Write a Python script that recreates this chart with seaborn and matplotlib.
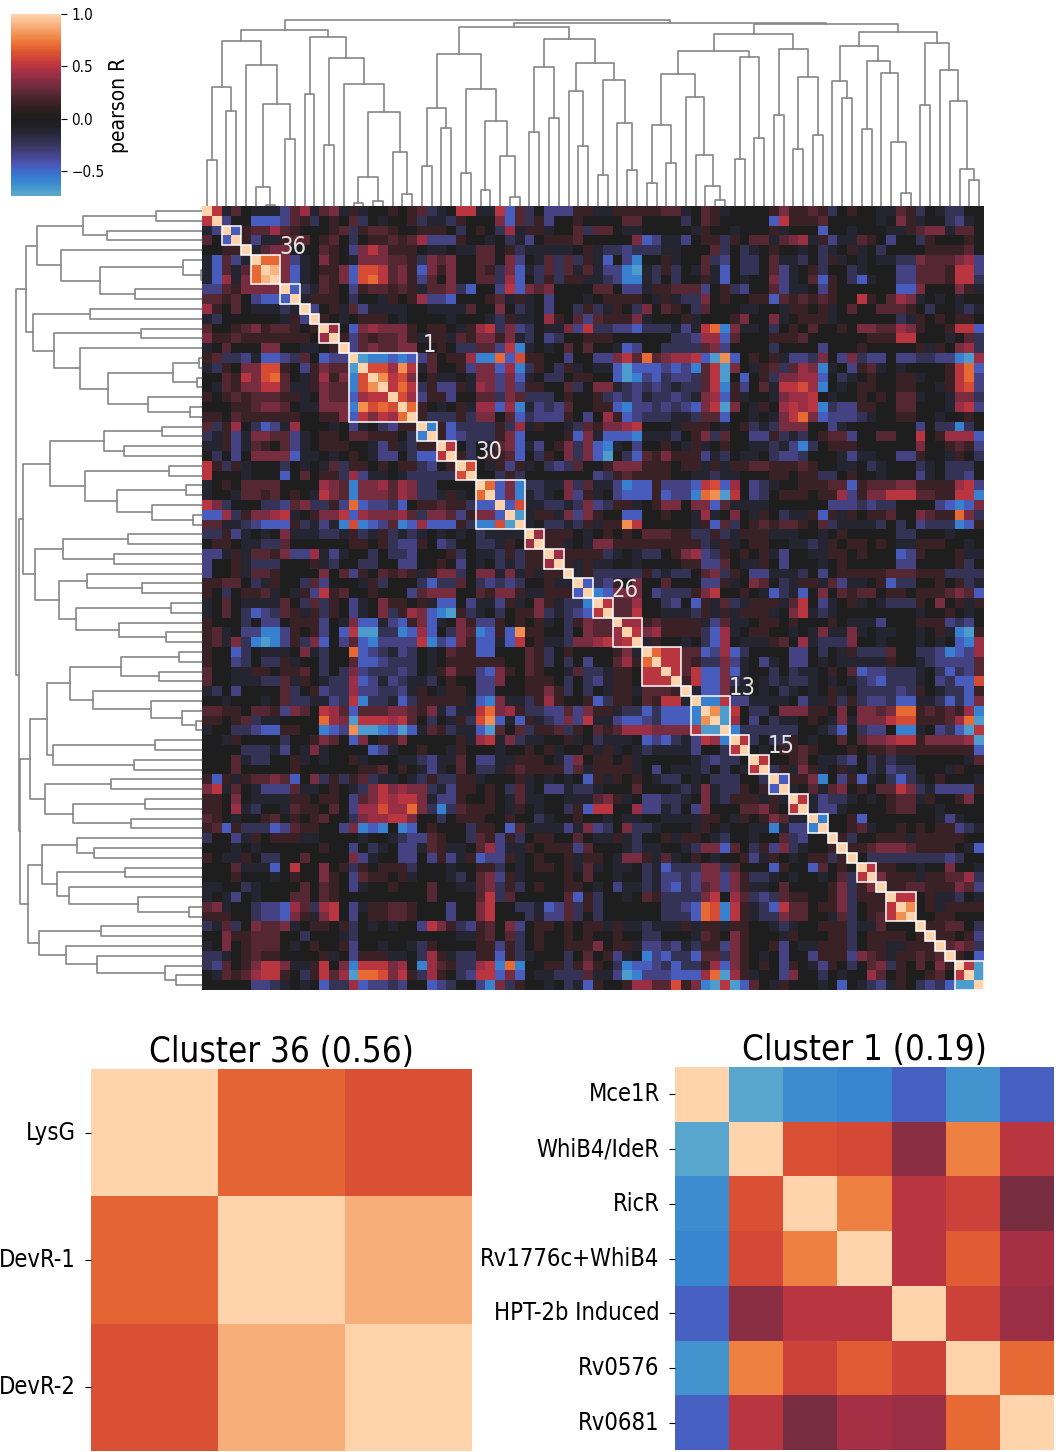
import matplotlib
matplotlib.use("Agg")
import matplotlib.pyplot as plt
import numpy as np
import pandas as pd
import seaborn as sns
from matplotlib.patches import Rectangle

# upper triangle of the correlation matrix, one character per cell
LEVELS = {'A': -.68, 'B': -.58, 'C': -.45, 'D': -.33, 'E': -.23, 'F': -.12, '0': 0, '1': .13, '2': .23,
          '3': .33, '4': .42, '5': .5, '6': .6, '7': .7, '8': .8, '9': .9, 'X': 1}
UPPER_ROWS = [
    "X5F20FFFD2 4F23F1F001 012EF055FF 5C2E0DDD11 FF1111122F 021F000013 1121E0100F F21E0FEE00",
    ".XD00CCCD2 1E0102E0F0 01EFFE1000 3C2E1D0010 000220000E 02100000C5 111200000F 031F00EDF0",
    "..XC122421 00012E1221 001110E010 E4F11F002E 220FF00000 F100F0001F 000C00F000 FF1233F220",
    "...X1DFF12 20120E0112 124DDD100F 0EFD011120 00003CDFFD 011E1022F2 34F1DFF210 D00E100010",
    "....XF2330 00210D3531 110FF0FF22 01EFFFFF01 FEEDEEEFF0 002E0EF010 0F0EF01F0E 0000111120",
    ".....X773D F0310F3332 21E3230022 03D0F2E2E1 FC0DB001F0 02ED0EE02F FE0E1F0F0F FEE322234D",
    "......X93C F0113C6652 31C3130021 E3CFE2E2F2 FDDBAFE1E0 F2FC0EE02D F01E00EF00 0DD222155D",
    ".......X3C F0213C6752 31D2030022 E4C0E1E11F FEDBBFE0E0 01FC0F003D F02C10ECF0 0DD222155E",
    "........XC EF210D1221 21F223EC00 D5C3230000 220DDF1122 2D01ED002D FF0D100000 0CC300031F",
    ".........X F1110E00F1 014DDC0001 2F1F0D000F 011110F1FE E3010011C2 1212100510 243F0F0F00",
    "XD01F2DFFF F00FFFF200 30EF0D00E1 EF10E30210 E2000FF00F 1101F02002 2210E00FEF",
    ".X10F01110 F0000F000F E1FF04102D 21113F0001 F00013003F 0111F00000 0EF1010110",
    "..X40C3433 310110F145 E3DE0FF3D5 EEDDCEEEFD F57B3FF0E0 1020010332 243100155C",
    "...X1D2122 31F11F2133 13FE0DE001 11000000EE D44C200011 1200000011 155000F02E",
    "....XD2322 330010EE22 D5BF0F0202 00FCD00EEE E23D0000E0 000D000100 0001F1034E",
    ".....XABBC BCD20114BB 7C61100D00 DD35272344 5CA8C0101F DDE30D3EDD 0DDEEDDBA4",
    "......X664 85F2001D33 C4BE10E1F0 FFCACCCDCD B25A30F12E 243BF0D12F 0F0000157C",
    ".......X85 6301FF0F33 D3CF0EE011 00CABDCEDD E25A0C01E3 344C0EF010 011F00157D",
    "........X5 75E1DD1F43 D3D11002E0 33FEDEDEFE E25B1D02F5 564B0F0110 01100F156D",
    ".........X 64D11D0022 E32EEE0100 1EDEDFEEDE F34C1F00F3 4450F00101 022F00F33E",
    "X710F01F44 C4BFDED200 11CBDDEDED C35A30F104 545BEDD110 022000F45D",
    ".X1EEE1E33 02CEDDD10D 041CDEEEFF E22C00F0F3 573CDDDEF0 01100F0010",
    "..XB1CEEEE 1E4F100FE2 13345000F1 110F01EFE3 3300DF0000 000D0EEBE0",
    "...X1CDEEE 13C00001C3 FCCCBFFFE0 13E200DD1E FE0122D002 200501444C",
    "....X50E0F 23CFD013E3 CBF0D0010F 1F0100FFEF DBE0111000 000300121D",
    ".....X1E01 12C0E103E3 CA0EC21311 1DFE0FF0ED DE000FDFF0 0DD100F10E",
    "......X60F 1D1F0EDE20 0133311101 1F1F112211 12100FF0EF 000EF0EEE0",
    ".......X00 E1E0000000 DE12111100 FFEFF00011 011EE0100F 000DF0EED0",
    "........X7 C3BEEFF3E2 FFDBCC1DDD C56C40DEF0 011122C122 233111145D",
    ".........X C3BFEF03D1 F0DCCC1CDD B78A50DE01 110114D133 555221155B",
    "XC6FFEEFE3 DE11F01330 33C2FFFF00 0000DDDEDE E0000DCBC3",
    ".XAF11F3D3 100CC00100 F4F030F10E FF1C1F1011 200321173E",
    "..XF0EEFE1 F118500000 F1C2E01212 2102EFFFFE 0E0DEEEBC1",
    "...X41110F 0101022211 EE1EF111FF F00F010000 0EE000F000",
    "....X11F0F 3311111111 1EF1F01100 FFEF101101 0FF11100F0",
    ".....X4111 1EF0FEE013 4DE10101FD 00FF110100 0CD10001FF",
    "......X1F1 FF00F00001 1DD20FF10D 000F010000 0DD00001E0",
    ".......XF1 EEEEE1EFEE 023E10DDFF FE0D011111 222111EEEE",
    "........XC ED10300200 0DD1F0320E F11F2DFF01 CEE00101EF",
    ".........X BC3330DEEE 1350010FCE FC03021220 110111232C",
    "X522400ED0 C1F2EF111F 250DF01F0F EEE10301F1",
    ".X22500FFF E1F1F111F0 35FEF00000 000F0010F0",
    "..X4412111 1FD2FF0110 100010FFFD 000111DED0",
    "...X534111 1EC4F01100 F0F3FF3F0F F00F01FBA1",
    "....XF100F 0EC40FFF12 04FEEE300F 000F0F0CB4",
    ".....X7552 2CD4CE0000 DD0E0F1EEE 200EEDBCD4",
    "......X552 1EE3DF0DF0 DD0F0FFFFF 100FEDDDD2",
    ".......X52 5CC3CF00E0 EFF0102CDD EEEF0ECED2",
    "........X1 5CC3EF0FEF EEF0F0FEDC EEEF0DECC6",
    ".........X FCC3FF0F0E F0F01F0EEE EDE10FEEC1",
    "XBB5DDFFFF 0DFF1E1EDD ECCFFECEC3",
    ".X8A50EE03 3311030332 377121214B",
    "..XA40D0EF F010F3F333 566111247A",
    "...XBEEEEE E00FEC0EDD 0BBF0DECA5",
    "....X5E0EE 10F0020233 455133334A",
    ".....X0F01 1210001011 211111111C",
    "......X500 120FFED0EF EFF00000F2",
    ".......XE1 F31F01F0EF DEE000F100",
    "........XC 113B0D1CF0 ECEF01000F",
    ".........X F02F230102 253EFDDDD1",
    "X5FDEEF0F0 122F100130",
    ".XFDDF0000 12200F0000",
    "..XB001C00 00000FDF00",
    "...X0012F0 0101011DEF",
    "....X1E001 11F1111100",
    ".....X1123 33211110FC",
    "......X0EE EEEEEEDE00",
    ".......X51 100F00300F",
    "........X3 111F11224E",
    ".........X 112211132D",
    "X5501FFE0F",
    ".X801F1111",
    "..X0011000",
    "...X11220E",
    "....X1101D",
    ".....X232E",
    "......X10C",
    ".......X5A",
    "........XA",
    ".........X",
]

# sizes of the white boxes on the diagonal, starting at row 2
BOX_SIZES = [2, 1, 3, 2, 1, 1, 2, 1, 7, 2, 2, 2, 5, 2, 2, 1, 2, 2, 3, 4, 1, 4, 2, 2, 2, 2, 2,
             1, 1, 1, 2, 1, 3, 1, 1, 1, 1, 3]
BOX_FIRST = 2
# cluster number -> row where its box starts
BOX_LABELS = {'36': 5, '1': 15, '30': 26, '26': 40, '13': 50, '15': 56}

# dendrogram as nested (height, left, right), L is a leaf, leaves go left to right
L = None
BRANCH_A = (529,
    (495,
        (356, (138, L, L), (285, L, L)),
        (423, L, (307, (57, L, (3, L, L)), (200, L, L)))),
    (508,
        (335, L, L),
        (445, (184, L, L),
            (365, L,
                (281,
                    (87, (8, L, L), (15, L, L)),
                    (163, L, (35, L, L)))))))
BRANCH_B = (538,
    (457,
        (294, (120, L, L), (234, L, L)),
        (352, (100, L, L), (255, (48, L, L), (150, L, (28, L, L))))),
    (500,
        (416, (222, L, L), (264, L, L)),
        (428,
            (344, L, (180, L, L)),
            (378, (92, L, L), (250, L, (108, L, L))))))
BRANCH_C = (517,
    (465,
        (395,
            (242, (69, L, L), (128, L, L)),
            (327, L, (154, L, (61, L, (19, L, L))))),
        (448, (141, L, L), (205, L, L))),
    (470,
        (272, L, L),
        (387, (170, L, L), (213, L, L))))
BRANCH_D = (521,
    (479,
        (374, L, (323, L, L)),
        (436, (230, L, L), (400, L, (193, L, (40, L, L))))),
    (488,
        (302, L, L),
        (408, L, (315, L, (112, L, (78, L, L))))))
TREE = (558, BRANCH_A, (550, BRANCH_B, (546, BRANCH_C, BRANCH_D)))

CLUSTER36_LABELS = ['LysG', 'DevR-1', 'DevR-2']
CLUSTER36_VALUES = [[1, .68, .62],
                    [.68, 1, .885],
                    [.62, .885, 1]]
CLUSTER1_LABELS = ['Mce1R', 'WhiB4/IdeR', 'RicR', 'Rv1776c+WhiB4', 'HPT-2b Induced', 'Rv0576', 'Rv0681']
CLUSTER1_VALUES = [[1, -.72, -.62, -.6, -.47, -.65, -.47],
                   [-.72, 1, .62, .6, .38, .76, .5],
                   [-.62, .62, 1, .76, .5, .57, .33],
                   [-.6, .6, .76, 1, .5, .66, .45],
                   [-.47, .38, .5, .5, 1, .57, .42],
                   [-.65, .76, .57, .66, .57, 1, .7],
                   [-.47, .5, .33, .45, .42, .7, 1]]

W, H = 1056, 1452
plt.rcParams['font.family'] = ['DejaVu Sans']
plt.rcParams['font.stretch'] = 'condensed'


def px_axes(fig, x0, y0, x1, y1):
    return fig.add_axes([x0 / W, 1 - y1 / H, (x1 - x0) / W, (y1 - y0) / H])


def decode_matrix():
    n = 80
    m = np.zeros((n, n))
    for i, row in enumerate(UPPER_ROWS):
        cells = row.replace(' ', '').rjust(n, '.')[:n]
        for j, c in enumerate(cells):
            if c != '.':
                m[i, j] = m[j, i] = LEVELS[c]
    return pd.DataFrame(m)


def draw_tree(node, next_leaf, segments):
    # returns the position of this node and its height
    if node is None:
        pos = next_leaf[0] + .5
        next_leaf[0] += 1
        return pos, 0
    h, left, right = node
    p1, h1 = draw_tree(left, next_leaf, segments)
    p2, h2 = draw_tree(right, next_leaf, segments)
    segments.append(([p1, p1, p2, p2], [h1, h, h, h2]))
    return (p1 + p2) / 2, h


fig = plt.figure(figsize=(W / 100, H / 100), dpi=100)

# main heatmap and colorbar
ax_main = px_axes(fig, 202, 206, 984, 990)
ax_cbar = px_axes(fig, 11, 14, 61, 196)
sns.heatmap(decode_matrix(), ax=ax_main, cbar_ax=ax_cbar, cmap='icefire', center=0, vmin=-.74, vmax=1,
            xticklabels=False, yticklabels=False, cbar_kws={'ticks': [-.5, 0, .5, 1]})
ax_main.tick_params(length=0)
ax_cbar.tick_params(labelsize=11, length=4)
ax_cbar.set_ylabel('pearson R', fontsize=15, labelpad=3)

start = BOX_FIRST
box_ends = {}
for size in BOX_SIZES:
    ax_main.add_patch(Rectangle((start, start), size, size, fill=False, ec='white', lw=1.1, clip_on=False))
    box_ends[start] = start + size
    start += size
for name, first in BOX_LABELS.items():
    ax_main.text(box_ends[first] + 1.3, first - .85, name, color='#e4e4e4', fontsize=17, ha='center', va='center')

# dendrograms
segments = []
draw_tree(TREE, [0], segments)
ax_top = px_axes(fig, 202, 10, 984, 206)
ax_left = px_axes(fig, 6, 206, 202, 990)
for xs, ys in segments:
    ax_top.plot(xs, ys, color='#868686', lw=1.2)
    ax_left.plot(ys, xs, color='#868686', lw=1.2)
ax_top.set_xlim(0, 80)
ax_top.set_ylim(0, 588)
ax_left.set_xlim(588, 0)
ax_left.set_ylim(80, 0)
ax_top.axis('off')
ax_left.axis('off')

# the two clusters below
ax_c36 = px_axes(fig, 91, 1069, 472, 1451)
sns.heatmap(pd.DataFrame(CLUSTER36_VALUES, index=CLUSTER36_LABELS), ax=ax_c36, cmap='icefire', center=0,
            vmin=-1, vmax=1, cbar=False, xticklabels=False, yticklabels=True)
ax_c36.set_title('Cluster 36 (0.56)', fontsize=25, pad=5)

ax_c1 = px_axes(fig, 675, 1067, 1054, 1450)
sns.heatmap(pd.DataFrame(CLUSTER1_VALUES, index=CLUSTER1_LABELS), ax=ax_c1, cmap='icefire', center=0,
            vmin=-1, vmax=1, cbar=False, xticklabels=False, yticklabels=True)
ax_c1.set_title('Cluster 1 (0.19)', fontsize=25, pad=5)

for ax in (ax_c36, ax_c1):
    ax.tick_params(axis='y', labelsize=17, rotation=0, length=4, pad=7)
    ax.tick_params(axis='x', length=0)

fig.savefig('out.png', dpi=100)
